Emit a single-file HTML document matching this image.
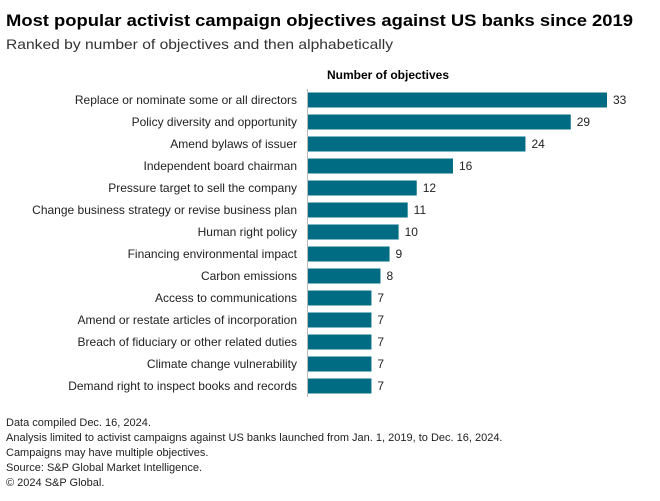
<!DOCTYPE html>
<html><head><meta charset="utf-8"><style>
body{margin:0;background:#fff;width:660px;height:501px;overflow:hidden;font-family:"Liberation Sans",sans-serif;color:#111}
</style></head><body>
<svg width="660" height="501" style="position:absolute;left:0;top:0">
<text x="6" y="26" font-size="17" font-weight="bold" textLength="627" lengthAdjust="spacingAndGlyphs">Most popular activist campaign objectives against US banks since 2019</text>
<text x="6" y="49" font-size="14" fill="#333" textLength="387" lengthAdjust="spacingAndGlyphs">Ranked by number of objectives and then alphabetically</text>
<text x="388" y="79" font-size="12" font-weight="bold" text-anchor="middle">Number of objectives</text>
<g id="bars"></g>
<line x1="307.5" y1="89" x2="307.5" y2="397" stroke="#bbb" stroke-width="1"/>
<g font-size="11" fill="#222">
<text x="6" y="426">Data compiled Dec. 16, 2024.</text>
<text x="6" y="441">Analysis limited to activist campaigns against US banks launched from Jan. 1, 2019, to Dec. 16, 2024.</text>
<text x="6" y="456">Campaigns may have multiple objectives.</text>
<text x="6" y="471">Source: S&amp;P Global Market Intelligence.</text>
<text x="6" y="486">© 2024 S&amp;P Global.</text>
</g>
</svg>
<script>
const categories=["Replace or nominate some or all directors","Policy diversity and opportunity","Amend bylaws of issuer","Independent board chairman","Pressure target to sell the company","Change business strategy or revise business plan","Human right policy","Financing environmental impact","Carbon emissions","Access to communications","Amend or restate articles of incorporation","Breach of fiduciary or other related duties","Climate change vulnerability","Demand right to inspect books and records"];
const values=[33,29,24,16,12,11,10,9,8,7,7,7,7,7];
const NS="http://www.w3.org/2000/svg";
const g=document.getElementById('bars');
const x=v=>308+v*(299/33);
const y=i=>100+i*22;
categories.forEach((c,i)=>{
  const r=document.createElementNS(NS,'rect');
  r.setAttribute('x',308);r.setAttribute('y',y(i)-7.5);
  r.setAttribute('width',x(values[i])-308);r.setAttribute('height',15);
  r.setAttribute('fill','#006c84');
  
  
  g.appendChild(r);
  const l=document.createElementNS(NS,'text');
  l.setAttribute('x',297);l.setAttribute('y',y(i)+4);l.setAttribute('text-anchor','end');
  l.setAttribute('font-size','12');l.setAttribute('fill','#222');l.textContent=c;
  
  
  g.appendChild(l);
  const v=document.createElementNS(NS,'text');
  v.setAttribute('x',x(values[i])+6);v.setAttribute('y',y(i)+4);
  v.setAttribute('font-size','12');v.setAttribute('fill','#222');v.textContent=values[i];
  
  
  g.appendChild(v);
});
</script>
</body></html>
